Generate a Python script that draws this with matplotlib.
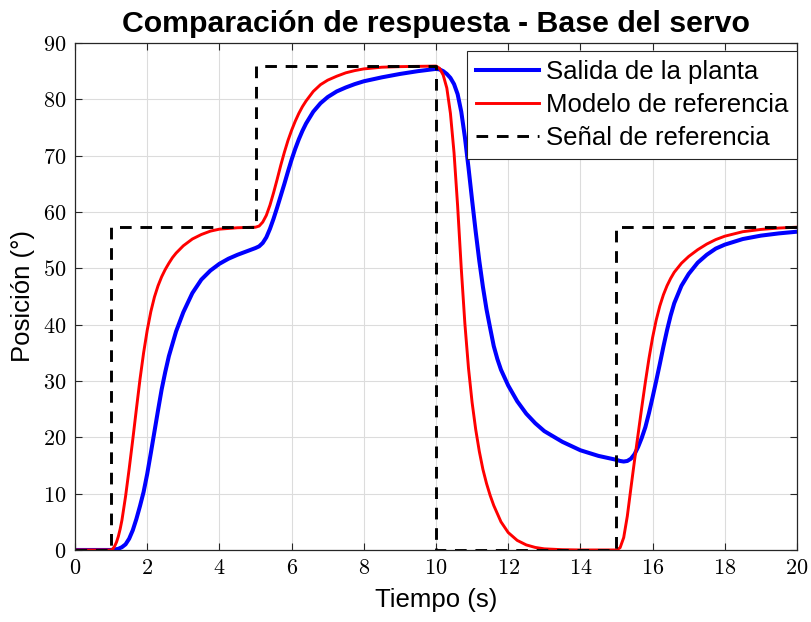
import numpy as np
import matplotlib
matplotlib.use("Agg")
import matplotlib.pyplot as plt
from matplotlib.ticker import FuncFormatter, MultipleLocator

plt.rcParams["font.family"] = ["Liberation Sans", "DejaVu Sans"]
plt.rcParams["mathtext.fontset"] = "cm"

# Salida de la planta (blue)
t_salida = [0, 1.0, 1.2, 1.3, 1.4, 1.5, 1.6, 1.7, 1.8, 1.9, 2.0, 2.1, 2.2, 2.3, 2.4, 2.5, 2.6,
            2.8, 3.0, 3.25, 3.5, 3.75, 4.0, 4.25, 4.5, 4.75, 5.0,
            5.1, 5.2, 5.3, 5.4, 5.5, 5.6, 5.7, 5.8, 5.9, 6.0, 6.1, 6.2, 6.3, 6.4, 6.6, 6.8,
            7.0, 7.25, 7.5, 7.75, 8.0, 8.5, 9.0, 9.5, 10.0,
            10.1, 10.2, 10.3, 10.4, 10.5, 10.6, 10.7, 10.8, 10.9, 11.0, 11.1, 11.2, 11.3, 11.4,
            11.5, 11.6, 11.7, 11.8, 12.0, 12.25, 12.5, 12.75, 13.0, 13.5, 14.0, 14.5, 15.0,
            15.1, 15.2, 15.3, 15.4, 15.5, 15.6, 15.7, 15.8, 15.9, 16.0, 16.1, 16.2, 16.3, 16.4,
            16.5, 16.6, 16.8, 17.0, 17.25, 17.5, 17.75, 18.0, 18.5, 19.0, 19.5, 20.0]
salida = [0, 0, 0.2, 0.5, 1.0, 2.0, 3.5, 5.5, 7.8, 10.3, 13.5, 17.2, 21.0, 24.8, 28.5, 31.6, 34.4,
          38.8, 42.2, 45.6, 48.0, 49.6, 50.8, 51.7, 52.4, 53.0, 53.6,
          53.9, 54.5, 55.5, 57.0, 58.8, 60.8, 62.9, 65.0, 67.2, 69.3, 71.2, 72.9, 74.4, 75.7, 77.8, 79.3,
          80.4, 81.4, 82.1, 82.7, 83.2, 83.9, 84.5, 85.0, 85.4,
          85.3, 85.0, 84.5, 83.8, 82.7, 80.9, 77.8, 73.3, 67.9, 62.1, 56.5, 51.3, 46.7, 42.7,
          39.4, 36.2, 33.9, 32.0, 29.2, 26.4, 24.2, 22.5, 21.1, 19.2, 17.7, 16.7, 16.0,
          15.8, 15.7, 15.8, 16.2, 17.0, 18.3, 19.9, 21.8, 24.3, 27.1, 30.0, 33.0, 36.1, 39.0,
          41.6, 43.8, 46.9, 49.0, 51.0, 52.4, 53.5, 54.2, 55.2, 55.8, 56.2, 56.5]

# Modelo de referencia (red)
t_modelo = [0, 1.0, 1.05, 1.1, 1.15, 1.2, 1.25, 1.3, 1.4, 1.5, 1.6, 1.7, 1.8, 1.9, 2.0, 2.1,
            2.2, 2.3, 2.4, 2.5, 2.6, 2.7, 2.8, 3.0, 3.25, 3.5, 3.75, 4.0, 4.5, 5.0,
            5.1, 5.2, 5.3, 5.4, 5.5, 5.6, 5.7, 5.8, 5.9, 6.0, 6.1, 6.2, 6.3, 6.4, 6.6, 6.8,
            7.0, 7.25, 7.5, 7.75, 8.0, 8.5, 9.0, 10.0,
            10.1, 10.2, 10.3, 10.4, 10.5, 10.6, 10.7, 10.8, 10.9, 11.0, 11.1, 11.2, 11.3, 11.4,
            11.5, 11.6, 11.8, 12.0, 12.25, 12.5, 12.75, 13.0, 13.5, 14.0, 15.0,
            15.1, 15.2, 15.3, 15.4, 15.5, 15.6, 15.7, 15.8, 15.9, 16.0, 16.1, 16.2, 16.3, 16.4,
            16.5, 16.6, 16.8, 17.0, 17.25, 17.5, 17.75, 18.0, 18.5, 19.0, 19.5, 20.0]
modelo = [0, 0, 0.2, 0.7, 1.4, 2.4, 3.7, 5.3, 9.5, 14.4, 19.6, 25.0, 30.3, 35.0, 39.0, 42.3,
          44.9, 46.9, 48.5, 49.8, 50.9, 51.9, 52.7, 54.0, 55.2, 56.0, 56.6, 56.95, 57.2, 57.3,
          57.5, 58.2, 59.4, 61.2, 63.4, 65.8, 68.3, 70.6, 72.7, 74.5, 76.1, 77.5, 78.7, 79.7, 81.4, 82.6,
          83.4, 84.1, 84.7, 85.1, 85.4, 85.7, 85.8, 85.9,
          85.5, 84.3, 82.0, 77.5, 70.5, 61.0, 50.0, 40.2, 32.3, 26.2, 21.4, 17.5, 14.3, 11.8,
          9.7, 7.9, 5.0, 3.1, 1.7, 0.9, 0.45, 0.2, 0.05, 0.0, 0.0,
          0.4, 2.2, 6.0, 11.0, 15.9, 20.6, 25.3, 29.8, 34.0, 37.7, 40.8, 43.3, 45.3, 46.9,
          48.2, 49.3, 50.9, 52.1, 53.3, 54.3, 55.1, 55.7, 56.5, 56.9, 57.15, 57.3]

# Señal de referencia (step changes)
t_senal = [0, 1, 5, 10, 15, 20]
senal = [0, 57.3, 85.9, 0, 57.3, 57.3]

fig = plt.figure(figsize=(8.11, 6.22), dpi=100)
ax = fig.add_axes([0.0925, 0.1158, 0.8902, 0.8151])

ax.plot(t_salida, salida, color=(0, 0, 1), lw=2.9, label="Salida de la planta")
ax.plot(t_modelo, modelo, color=(1, 0, 0), lw=2.1, label="Modelo de referencia")
ax.plot(t_senal, senal, color="k", lw=2.1, ls=(0, (4, 3)), drawstyle="steps-post",
        label="Señal de referencia")

ax.set_xlim(0, 20)
ax.set_ylim(0, 90)
ax.xaxis.set_major_locator(MultipleLocator(2))
ax.yaxis.set_major_locator(MultipleLocator(10))
fmt = FuncFormatter(lambda v, p: f"${v:g}$")
ax.xaxis.set_major_formatter(fmt)
ax.yaxis.set_major_formatter(fmt)
ax.tick_params(direction="in", top=True, right=True, length=5, width=0.8,
               labelsize=16, color="#262626", pad=6)
ax.grid(True, color="#dcdcdc", lw=0.8)
ax.set_axisbelow(True)
for s in ax.spines.values():
    s.set_color("#262626")
    s.set_linewidth(0.9)

ax.set_title("Comparación de respuesta - Base del servo", fontsize=21.8, fontweight="bold", pad=8)
ax.set_xlabel("Tiempo (s)", fontsize=18.5, labelpad=6)
ax.set_ylabel("Posición (°)", fontsize=18.5, labelpad=6)

leg = ax.legend(loc="upper right", bbox_to_anchor=(1.0, 0.985), borderaxespad=0,
                fontsize=18.5, handlelength=2.45, handletextpad=0.27, labelspacing=0.36,
                borderpad=0.35, fancybox=False, framealpha=1, edgecolor="#262626")
leg.get_frame().set_linewidth(0.8)

fig.savefig("out.png", dpi=100)
